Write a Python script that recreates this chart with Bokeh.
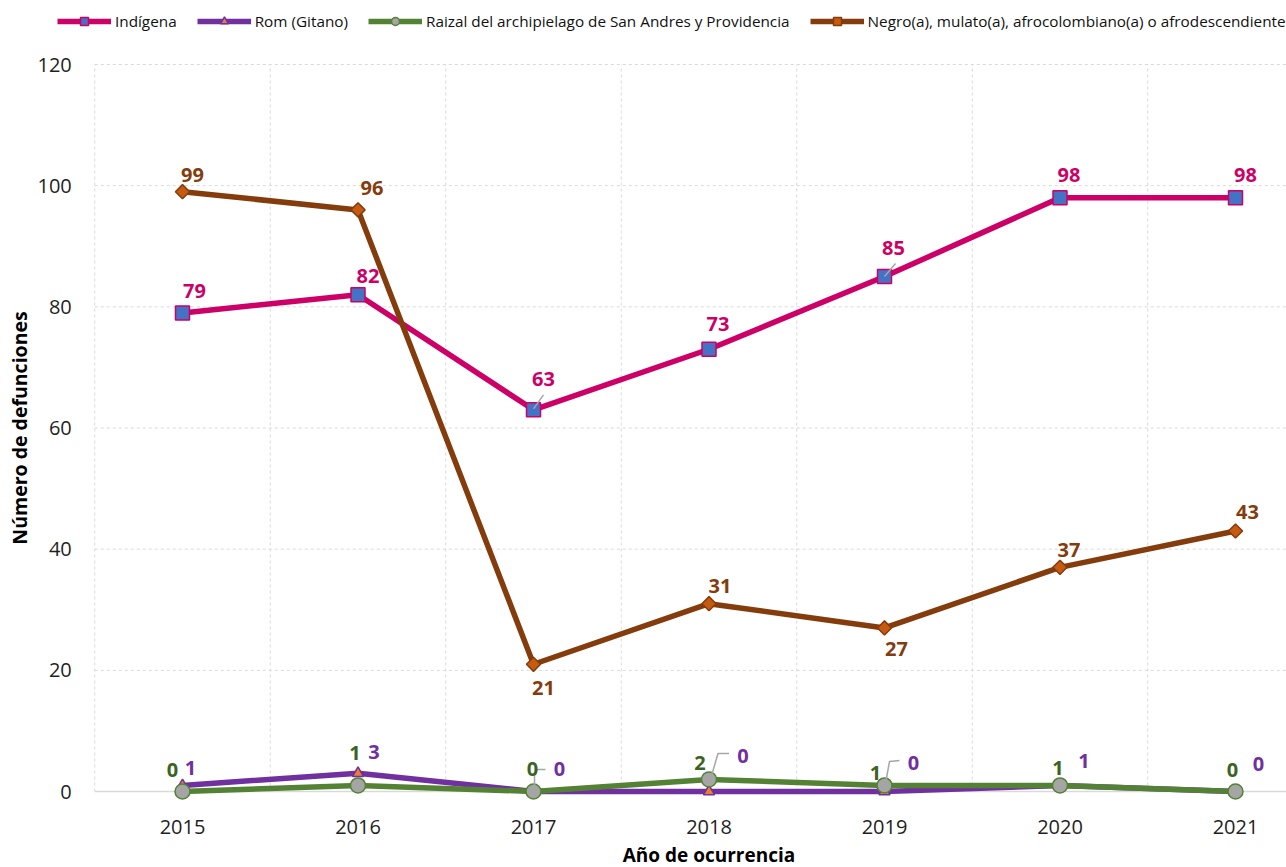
import math
from bokeh.plotting import figure
from bokeh.models import ColumnDataSource, Range1d, Legend, LegendItem
from bokeh.embed import file_html
from bokeh.resources import INLINE
from bokeh.core.properties import value

# ---- data ---------------------------------------------------------------
years = ["2015", "2016", "2017", "2018", "2019", "2020", "2021"]
indigena = [79, 82, 63, 73, 85, 98, 98]
rom = [1, 3, 0, 0, 0, 1, 0]
raizal = [0, 1, 0, 2, 1, 1, 0]
negro = [99, 96, 21, 31, 27, 37, 43]

name_indigena = "Indígena"
name_rom = "Rom (Gitano)"
name_raizal = "Raizal del archipielago de San Andres y Providencia"
name_negro = "Negro(a), mulato(a), afrocolombiano(a) o afrodescendiente"
x_title = "Año de ocurrencia"
y_title = "Número de defunciones"

y_ticks = [0, 20, 40, 60, 80, 100, 120]

# ---- label placement (screen px, dx right / dy up from the point) -------
off_indigena = [(12, 22), (10, 19), (10, 31), (9, 25), (9, 29), (9, 23), (10, 23)]
off_negro = [(10, 17), (14, 22), (10, -24), (11, 18), (12, -21), (9, 17), (12, 19)]
off_rom = [(8, 17), (16, 21), (26, 23), (34, 36), (29, 29), (24, 24), (23, 28)]
off_raizal = [(-10, 22), (-3, 32), (-1, 23), (-9, 16), (-9, 12), (-2, 17), (-3, 22)]

FONT = "Open Sans"
W, H = 1286, 867
# the plotting frame covers the whole canvas; axes are drawn by hand
PX_X = 175.5          # pixels per category
PX_Y = 727 / 120      # pixels per death
X0 = -182 / PX_X
X1 = (W - 182) / PX_X
Y1 = 791 / PX_Y
Y0 = -(H - 791) / PX_Y

xs = list(range(len(years)))
n = len(years)

p = figure(width=W, height=H, output_backend="svg", toolbar_location=None,
           x_range=Range1d(X0, X1), y_range=Range1d(Y0, Y1),
           x_axis_type=None, y_axis_type=None,
           min_border=0)
p.outline_line_color = None
p.background_fill_color = "white"
p.border_fill_color = "white"

# ---- grid and baseline ----------------------------------------------------------
GRID = "#D9D9D9"
p.segment(x0=[-0.5] * (len(y_ticks) - 1), x1=[X1] * (len(y_ticks) - 1),
          y0=y_ticks[1:], y1=y_ticks[1:],
          line_color=GRID, line_width=1, line_dash="3 3")
bounds = [i - 0.5 for i in range(n)]
p.segment(x0=bounds, x1=bounds, y0=[0] * n, y1=[y_ticks[-1]] * n,
          line_color=GRID, line_width=1, line_dash="3 3")
p.segment(x0=[-0.5], x1=[X1], y0=[0], y1=[0], line_color=GRID, line_width=1.5)

# ---- axis texts -------------------------------------------------------------
TICK_COLOR = "#1f1f1f"
p.text(x=xs, y=[0] * n, text=years, y_offset=35,
       text_align="center", text_baseline="middle",
       text_font=value(FONT), text_font_size="20px", text_color=TICK_COLOR)
p.text(x=[-0.5] * len(y_ticks), y=y_ticks, text=[str(t) for t in y_ticks],
       x_offset=-23, text_align="right", text_baseline="middle",
       text_font=value(FONT), text_font_size="20px", text_color=TICK_COLOR)
p.text(x=[(n - 1) / 2], y=[0], text=[x_title], y_offset=63,
       text_align="center", text_baseline="middle",
       text_font=value(FONT), text_font_size="19px", text_font_style="bold",
       text_color="#000000")
p.text(x=[-0.5], y=[y_ticks[-1] / 2], text=[y_title], x_offset=-75,
       angle=math.pi / 2, text_align="center", text_baseline="middle",
       text_font=value(FONT), text_font_size="19.5px", text_font_style="bold",
       text_color="#000000")

# ---- series -----------------------------------------------------------------
def series(vals, line_color, marker, size, fill, edge, angle=0.0):
    src = ColumnDataSource(dict(x=xs, y=vals))
    ln = p.line("x", "y", source=src, line_color=line_color, line_width=5.5,
                line_join="round")
    mk = p.scatter("x", "y", source=src, marker=marker, size=size,
                   fill_color=fill, line_color=edge, line_width=1.5, angle=angle)
    return [ln, mk]

r_ind = series(indigena, "#CC0066", "square", 14, "#4472C4", "#CC0066")
r_rom = series(rom, "#7030A0", "triangle", 11, "#ED7D31", "#7030A0")
r_rai = series(raizal, "#548235", "circle", 15, "#A5A5A5", "#548235")
r_neg = series(negro, "#843C0C", "square", 10, "#C55A11", "#843C0C",
               angle=math.pi / 4)

# ---- leader lines -----------------------------------------------------------
def leader(i, v, pts):
    return ([i + dx / PX_X for dx, dy in pts], [v + dy / PX_Y for dx, dy in pts])

leaders = [
    leader(2, indigena[2], [(0, 1), (10, 15)]),
    leader(4, indigena[4], [(0, 0), (11, 13)]),
    leader(2, rom[2], [(1, 0), (1, 18), (4, 22), (12, 22)]),
    leader(3, rom[3], [(2, 14), (9, 38), (20, 38)]),
    leader(4, rom[4], [(1, 8), (5, 30), (15, 31)]),
]
p.multi_line([l[0] for l in leaders], [l[1] for l in leaders],
             line_color="#A6A6A6", line_width=1.5)

# ---- data labels ------------------------------------------------------------
def labels(vals, offs, color):
    src = ColumnDataSource(dict(
        x=xs, y=vals, t=[str(v) for v in vals],
        xo=[o[0] for o in offs], yo=[-o[1] for o in offs]))
    p.text("x", "y", text="t", source=src, x_offset="xo", y_offset="yo",
           text_align="center", text_baseline="middle",
           text_font=value(FONT), text_font_style="bold",
           text_font_size="20px", text_color=color)

labels(indigena, off_indigena, "#CC0066")
labels(rom, off_rom, "#7030A0")
labels(raizal, off_raizal, "#3B6323")
labels(negro, off_negro, "#843C0C")

# ---- legend -----------------------------------------------------------------
legend = Legend(items=[
    LegendItem(label=name_indigena, renderers=r_ind),
    LegendItem(label=name_rom, renderers=r_rom),
    LegendItem(label=name_raizal, renderers=r_rai),
    LegendItem(label=name_negro, renderers=r_neg),
], orientation="horizontal", location=(57, H - 31),
    glyph_width=54, glyph_height=20, label_height=20, label_standoff=4,
    spacing=20, padding=0, margin=0,
    border_line_color=None, background_fill_alpha=0,
    label_text_font=FONT, label_text_font_size="15.3px",
    label_text_color="#111111")
p.add_layout(legend, "center")

open("out.html", "w").write(file_html(p, INLINE))
